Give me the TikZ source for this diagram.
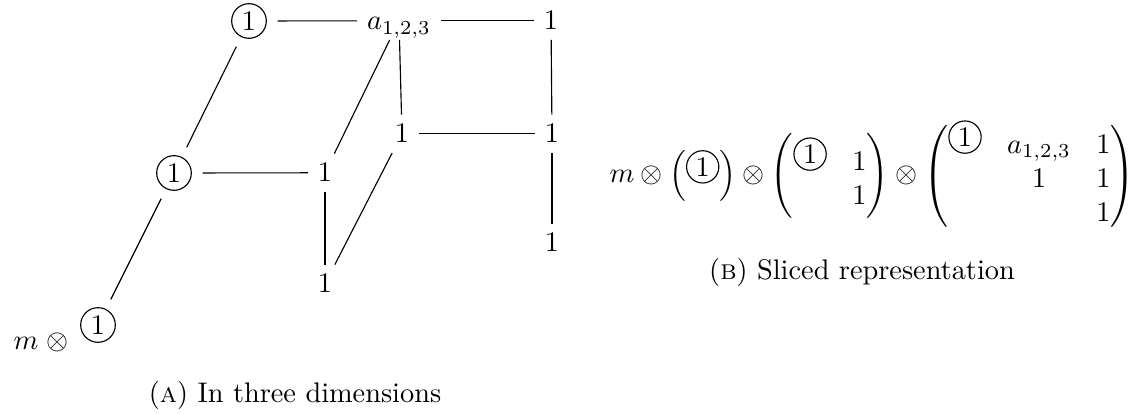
\documentclass[tikz,border=0pt]{standalone}
\usepackage{amsmath}
\newcommand{\cone}{\tikz[baseline=(cc.south)]\node[circle,draw,inner sep=1.1pt,outer sep=0pt](cc){1};}
\begin{document}
\begin{tikzpicture}[x=0.353pt,y=-0.353pt,
  num/.style={inner sep=3.33pt,anchor=base,text height=6.5pt,text depth=0pt},
  circ/.style={circle,draw,inner sep=1.4pt,outer sep=4pt},
  conn/.style={line width=0.4pt}]
\useasboundingbox (0,0) rectangle (1135,414);
% (A) three dimensions
\node[circ] (c1) at (249,21) {1};
\node[num] (a) at (399,30) {$a_{1,2,3}$};
\node[num] (t1) at (551,30) {1};
\node[num] (m1) at (402,143) {1};
\node[num] (m2) at (552,143) {1};
\node[circ] (c2) at (174,173) {1};
\node[num] (f1) at (325,182) {1};
\node[num] (lo) at (552,252) {1};
\node[num] (f2) at (325,293) {1};
\node[circ] (c3) at (98,325) {1};
\node[anchor=base west,inner sep=0pt] (ml) at (13,350) {$m\;\otimes$};
\draw[conn] (c1) -- (a);
\draw[conn] (a) -- (t1);
\draw[conn] (c1) -- (c2);
\draw[conn] (a) -- (f1);
\draw[conn] (a) -- (m1);
\draw[conn] (t1) -- (m2);
\draw[conn] (m1) -- (m2);
\draw[conn] (m2) -- (lo);
\draw[conn] (c2) -- (f1);
\draw[conn] (f1) -- (f2);
\draw[conn] (m1) -- (f2);
\draw[conn] (c2) -- (c3);
\node (capA) at (295,395) {(\textsc{a}) In three dimensions};
% (B) sliced representation
\node[anchor=base west,inner sep=0pt] (expr) at (609,183) {\setlength{\arraycolsep}{4.5pt}$m \otimes \left(\cone\right) \otimes \begin{pmatrix} \cone & 1 \\ & 1 \end{pmatrix} \otimes \begin{pmatrix} \cone & a_{1,2,3} & 1\\ & 1 & 1 \\ && 1\end{pmatrix}$};
\node (capB) at (862,272) {(\textsc{b}) Sliced representation};
\end{tikzpicture}
\end{document}
